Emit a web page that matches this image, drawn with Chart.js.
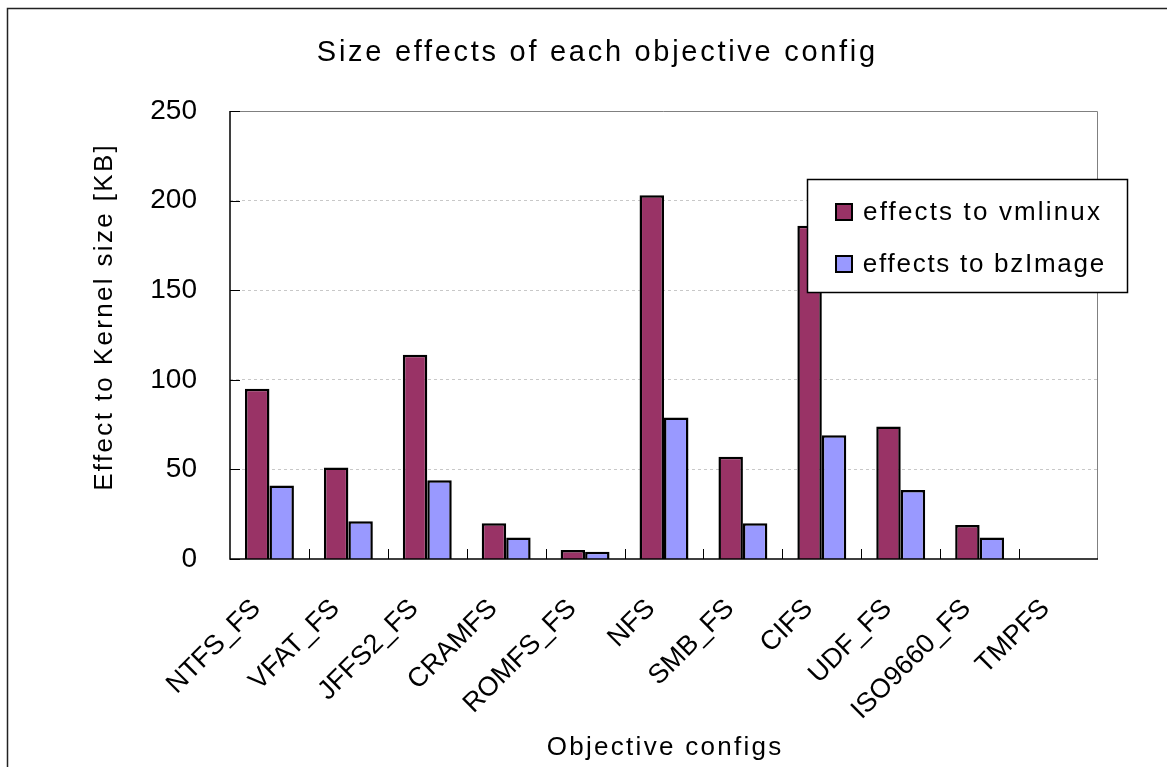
<!DOCTYPE html>
<html>
<head>
<meta charset="utf-8">
<script src="https://cdn.jsdelivr.net/npm/chart.js@4.4.1/dist/chart.umd.min.js"></script>
<style>
  html, body { margin: 0; padding: 0; background: #fff; }
  #wrap { width: 1167px; height: 767px; position: relative; }
</style>
</head>
<body>
<div id="wrap"><canvas id="sizeChart"></canvas></div>
<script>
const configs = ['NTFS_FS', 'VFAT_FS', 'JFFS2_FS', 'CRAMFS', 'ROMFS_FS', 'NFS', 'SMB_FS', 'CIFS', 'UDF_FS', 'ISO9660_FS', 'TMPFS'];
const vmlinuxKB = [95, 51, 114, 20, 5, 203, 57, 186, 74, 19, 0];
const bzImageKB = [41, 21, 44, 12, 4, 79, 20, 69, 38.5, 12, 0];
const yTicks = [0, 50, 100, 150, 200, 250];

const FONT = '"Liberation Sans", Arial, sans-serif';

// draws text stretched with letter spacing to a given width (the original font is wider)
const spacedText = (c, text, x, y, width) => {
    c.letterSpacing = '0px';
    const w = c.measureText(text).width;
    const sp = Math.max(0, (width - w) / text.length);
    c.letterSpacing = sp + 'px';
    c.textAlign = 'left';
    c.fillText(text, x - width / 2 + sp / 2, y);
    c.letterSpacing = '0px';
};

// frame, titles, legend box and inner tick marks
const decorations = {
    id: 'decorations',
    beforeDraw(chart) {
        const c = chart.ctx;
        c.save();
        c.strokeStyle = '#222';
        c.lineWidth = 1.5;
        c.strokeRect(7.5, 8.5, 1300, 900);
        c.restore();
    },
    afterDraw(chart) {
        const c = chart.ctx;
        const a = chart.chartArea;
        const ys = chart.scales.y;
        const xs = chart.scales.x;
        c.save();
        // plot frame
        c.strokeStyle = '#808080';
        c.lineWidth = 1;
        c.beginPath();
        c.moveTo(a.left, a.top + 0.5);
        c.lineTo(a.right - 0.5, a.top + 0.5);
        c.lineTo(a.right - 0.5, a.bottom);
        c.stroke();
        c.strokeStyle = '#000';
        c.lineWidth = 1.5;
        c.beginPath();
        c.moveTo(a.left, a.top);
        c.lineTo(a.left, a.bottom);
        c.lineTo(a.right, a.bottom);
        c.stroke();
        // inner tick marks
        c.lineWidth = 1;
        yTicks.forEach(v => {
            const py = Math.round(ys.getPixelForValue(v)) + 0.5;
            c.beginPath();
            c.moveTo(a.left, py);
            c.lineTo(a.left + 10, py);
            c.stroke();
        });
        for (let i = 1; i < configs.length; i++) {
            const px = Math.round((xs.getPixelForValue(i - 1) + xs.getPixelForValue(i)) / 2) + 0.5;
            c.beginPath();
            c.moveTo(px, a.bottom);
            c.lineTo(px, a.bottom - 10);
            c.stroke();
        }
        // titles
        c.fillStyle = '#000';
        c.textBaseline = 'middle';
        c.font = '29px ' + FONT;
        spacedText(c, 'Size effects of each objective config', 596, 53, 561);
        c.font = '26px ' + FONT;
        spacedText(c, 'Objective configs', 664, 748, 237);
        c.translate(105, 318);
        c.rotate(-Math.PI / 2);
        spacedText(c, 'Effect to Kernel size [KB]', 0, 0, 348);
        c.restore();

        // legend
        c.save();
        c.fillStyle = '#fff';
        c.fillRect(807, 179, 320, 113);
        c.strokeStyle = '#000';
        c.lineWidth = 1.5;
        c.strokeRect(807.5, 179.5, 320, 113);
        c.font = '26px ' + FONT;
        c.textBaseline = 'middle';
        const rows = [212, 264];
        const widths = [239, 243];
        chart.data.datasets.forEach((ds, i) => {
            c.fillStyle = ds.backgroundColor;
            c.fillRect(836, rows[i] - 8, 16, 16);
            c.strokeStyle = '#000';
            c.lineWidth = 2;
            c.strokeRect(836, rows[i] - 8, 16, 16);
            c.fillStyle = '#000';
            spacedText(c, ds.label, 862 + widths[i] / 2, rows[i] + 1, widths[i]);
        });
        c.restore();
    }
};

const ctx = document.getElementById('sizeChart').getContext('2d');
const chart = new Chart(ctx, {
    type: 'bar',
    data: {
        labels: configs,
        datasets: [
            {
                label: 'effects to vmlinux',
                data: vmlinuxKB,
                backgroundColor: '#993366',
                borderColor: '#000',
                borderWidth: 2.5,
                borderSkipped: 'bottom'
            },
            {
                label: 'effects to bzImage',
                data: bzImageKB,
                backgroundColor: '#9999FF',
                borderColor: '#000',
                borderWidth: 2.5,
                borderSkipped: 'bottom'
            }
        ]
    },
    options: {
        responsive: true,
        maintainAspectRatio: false,
        animation: false,
        layout: { padding: { top: 111, right: 69, left: 0, bottom: 0 } },
        datasets: { bar: { categoryPercentage: 0.62, barPercentage: 1.0 } },
        plugins: {
            legend: { display: false },
            title: { display: false },
            tooltip: { enabled: false }
        },
        scales: {
            x: {
                grid: { display: false, drawTicks: false },
                border: { display: false },
                afterFit(scale) { scale.height = 767 - 559; },
                ticks: {
                    color: '#000',
                    font: { family: FONT, size: 27 },
                    maxRotation: 45,
                    minRotation: 45,
                    padding: 34,
                    labelOffset: -13,
                    autoSkip: false
                }
            },
            y: {
                min: 0,
                max: 250,
                afterFit(scale) { scale.width = 230; },
                afterBuildTicks(scale) { scale.ticks = yTicks.map(v => ({ value: v })); },
                border: { display: false, dash: [3, 3] },
                grid: {
                    drawTicks: false,
                    color: '#c8c8c8',
                    lineWidth: ctx => (ctx.tick && (ctx.tick.value === 0 || ctx.tick.value === 250)) ? 0 : 1
                },
                ticks: {
                    color: '#000',
                    font: { family: FONT, size: 28 },
                    padding: 33
                }
            }
        }
    },
    plugins: [decorations]
});
</script>
</body>
</html>
